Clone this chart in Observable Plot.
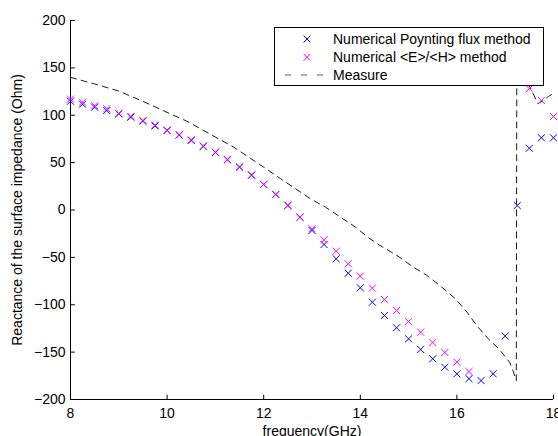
<!DOCTYPE html>
<html><head><meta charset="utf-8">
<script src="https://cdn.jsdelivr.net/npm/d3@7"></script>
<script src="https://cdn.jsdelivr.net/npm/@observablehq/plot@0.6"></script>
<style>
body{margin:0;background:#fff;}
#wrap{position:relative;width:558px;height:436px;overflow:hidden;font-family:"Liberation Sans",Arial,sans-serif;}
#legend{position:absolute;left:274px;top:27px;}
</style>
</head><body>
<div id="wrap"></div>
<script>
const freq = [8,8.25,8.5,8.75,9,9.25,9.5,9.75,10,10.25,10.5,10.75,11,11.25,11.5,11.75,12,12.25,12.5,12.75,13,13.25,13.5,13.75,14,14.25,14.5,14.75,15,15.25,15.5,15.75,16,16.25,16.5,16.75,17,17.25,17.5,17.75,18];
const poynting = [114.8,111.7,108.5,105,101.5,98,93.7,88.8,83.9,79,73.4,67,60.7,53,45.2,36.7,26.9,16.4,4.7,-7.6,-21.6,-36.4,-51.5,-66.7,-82.1,-97.3,-111.3,-124.3,-136,-147.2,-157,-166,-172.9,-178,-180,-172.9,-133,4.7,65.2,76.2,76.2];
const eOverH = [117,113.8,110,106.8,102,98.8,94.5,89.5,84.5,79.5,74,67.5,61,53.5,45.5,37,27,16.5,5,-7.6,-19.8,-31.5,-43.5,-56.8,-69.8,-82.5,-94.5,-106,-117.7,-129,-139.8,-150.4,-160.6,-170.5,null,null,null,null,128,115.6,98.7];
const measureFreq = [8,8.5,9,9.5,10,10.41,11,11.38,12,12.35,12.66,12.97,13.28,13.59,13.9,14.17,14.41,14.76,15.1,15.38,15.69,15.97,16.21,16.41,16.65,16.87,17.09,17.16,17.23,17.24,17.5,17.68,17.9,18];
const measureVal = [140,133,125.5,114.7,103,93.7,77,66.3,45.2,33,22.4,11.8,3,-7.6,-18,-29.3,-37.5,-48,-60.4,-69,-81.5,-93.7,-107.9,-121.9,-136,-146.5,-160.6,-169.4,-180,155,131,112,120,123];
const xTicks = [8,10,12,14,16,18];
const yTicks = [-200,-150,-100,-50,0,50,100,150,200];
const seriesNames = ["Numerical Poynting flux method","Numerical <E>/<H> method","Measure"];
const seriesColors = ["#0000ff","#ff00ff","#000000"];

const pts1 = freq.map((f,i)=>({f, v: poynting[i]})).filter(d=>d.v!=null);
const pts2 = freq.map((f,i)=>({f, v: eOverH[i]})).filter(d=>d.v!=null);
const meas = measureFreq.map((f,i)=>({f, v: measureVal[i]}));
const fmt = d3.format("d");

const chart = Plot.plot({
  width: 558, height: 436,
  marginLeft: 70, marginRight: 5, marginTop: 20, marginBottom: 37,
  style: {fontFamily: "'Liberation Sans', Arial, sans-serif", fontSize: "14px", background: "#fff", color: "#000", overflow: "visible"},
  x: {domain: [8,18]},
  y: {domain: [-200,200]},
  marks: [
    Plot.axisX({ticks: xTicks, tickSize: 0, tickPadding: 9, tickFormat: fmt, label: "frequency(GHz)", labelAnchor: "center", labelArrow: "none", labelOffset: 36}),
    Plot.axisY({ticks: yTicks, tickSize: 0, tickPadding: 5, tickFormat: fmt, label: "Reactance of the surface impedance (Ohm)", labelAnchor: "center", labelArrow: "none", labelOffset: 58}),
    Plot.ruleX(xTicks, {y1: -200, y2: -195.5, stroke: "#000", strokeWidth: 1}),
    Plot.ruleY(yTicks, {x1: 8, x2: 8.1, stroke: "#000", strokeWidth: 1}),
    Plot.ruleX([8], {stroke: "#000", strokeWidth: 1}),
    Plot.ruleY([-200], {stroke: "#000", strokeWidth: 1}),
    Plot.line(meas, {x: "f", y: "v", stroke: seriesColors[2], strokeWidth: 0.9, strokeDasharray: "6,5"}),
    Plot.dot(pts1, {x: "f", y: "v", symbol: "times", r: 3.3, stroke: seriesColors[0], strokeWidth: 1}),
    Plot.dot(pts2, {x: "f", y: "v", symbol: "times", r: 3.3, stroke: seriesColors[1], strokeWidth: 1})
  ]
});
const wrap = document.getElementById("wrap");
wrap.appendChild(chart);

// legend
const ns = "http://www.w3.org/2000/svg";
const lg = document.createElementNS(ns, "svg");
lg.setAttribute("id", "legend");
lg.setAttribute("width", 271); lg.setAttribute("height", 60);
lg.style.fontFamily = "'Liberation Sans', Arial, sans-serif";
lg.style.fontSize = "14px";
const rect = document.createElementNS(ns, "rect");
rect.setAttribute("x", 0.5); rect.setAttribute("y", 0.5); rect.setAttribute("width", 269); rect.setAttribute("height", 58);
rect.setAttribute("fill", "#fff"); rect.setAttribute("stroke", "#000"); rect.setAttribute("stroke-width", 1);
lg.appendChild(rect);
const rows = [12, 30.3, 48];
seriesNames.forEach((name, i) => {
  const cy = rows[i];
  if (i < 2) {
    const p = document.createElementNS(ns, "path");
    const r = 3.4, cx = 33;
    p.setAttribute("d", `M${cx-r},${cy-r}L${cx+r},${cy+r}M${cx-r},${cy+r}L${cx+r},${cy-r}`);
    p.setAttribute("stroke", seriesColors[i]); p.setAttribute("stroke-width", 1); p.setAttribute("fill", "none");
    lg.appendChild(p);
  } else {
    const l = document.createElementNS(ns, "line");
    l.setAttribute("x1", 11); l.setAttribute("x2", 54); l.setAttribute("y1", cy); l.setAttribute("y2", cy);
    l.setAttribute("stroke", "#555"); l.setAttribute("stroke-width", 1.2); l.setAttribute("stroke-dasharray", "6,10");
    lg.appendChild(l);
  }
  const t = document.createElementNS(ns, "text");
  t.setAttribute("x", 59); t.setAttribute("y", cy); t.setAttribute("dy", "0.35em");
  t.setAttribute("fill", "#000");
  t.textContent = name;
  lg.appendChild(t);
});
wrap.appendChild(lg);
</script>
</body></html>
